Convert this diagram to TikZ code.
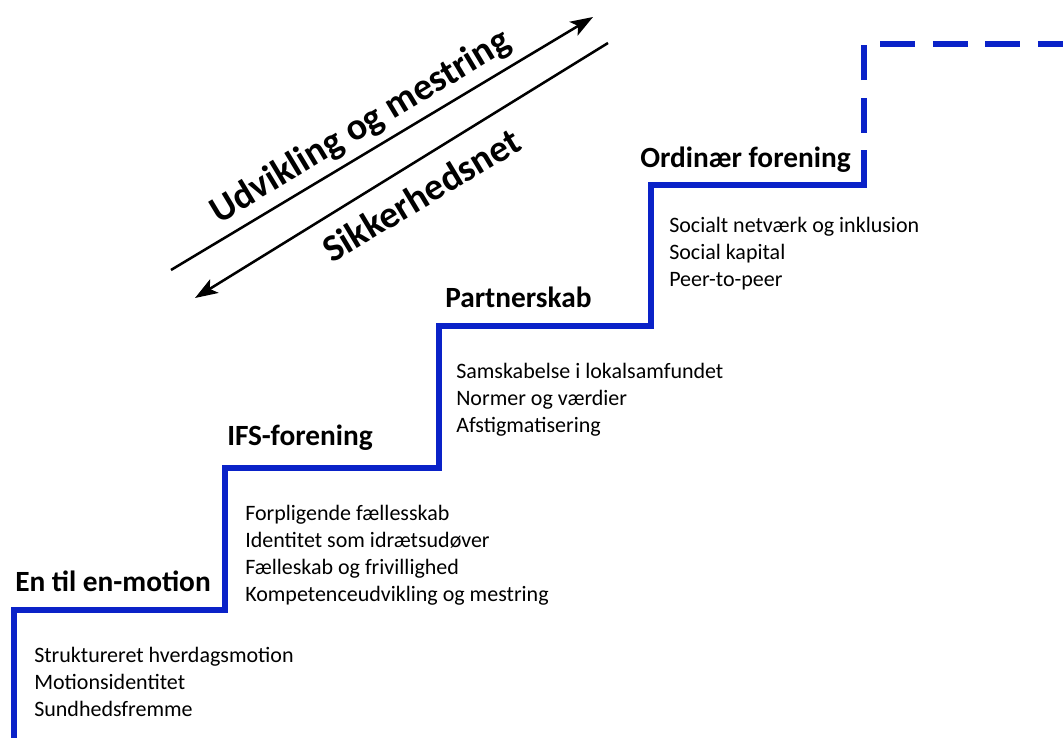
\documentclass[tikz,border=0pt]{standalone}
\usepackage{fontspec}
\setmainfont{Carlito}
\usetikzlibrary{arrows.meta}
\definecolor{stairblue}{RGB}{10,34,200}
\begin{document}
\begin{tikzpicture}[x=0.75pt,y=-0.75pt,
  stair/.style={line width=4.5pt, draw=stairblue, line join=miter},
  heading/.style={font=\fontsize{22}{26}\selectfont\bfseries, anchor=base west, inner sep=0pt},
  item/.style={font=\fontsize{16.5}{20}\selectfont, anchor=base west, inner sep=0pt},
  slogan/.style={font=\fontsize{28.5}{34}\selectfont\bfseries, anchor=base, inner sep=0pt, rotate=31},
  arr/.style={line width=1.9pt, -{Stealth[length=17pt,width=12pt,inset=4pt]}}]
\useasboundingbox (0,0) rectangle (1063,738);

% staircase corners
\coordinate (s0) at (14,740);
\coordinate (s1) at (14,610);
\coordinate (s2) at (225,610);
\coordinate (s3) at (225,468);
\coordinate (s4) at (439,468);
\coordinate (s5) at (439,326);
\coordinate (s6) at (651,326);
\coordinate (s7) at (651,185);
\coordinate (s8) at (864,185);
\coordinate (s9) at (864,150);
\coordinate (s10) at (864,44);
\coordinate (s11) at (1065,44);

\draw[stair] (s0) -- (s1) -- (s2) -- (s3) -- (s4) -- (s5) -- (s6) -- (s7) -- (s8) -- (s9);
\draw[stair, dash pattern=on 26.25pt off 13.1pt, dash phase=26.25pt] (s9) -- (s10) -- (s11);

% arrows
\coordinate (a1s) at (171,270);
\coordinate (a1e) at (593,17);
\coordinate (a2s) at (608,43);
\coordinate (a2e) at (195,298);
\draw[arr] (a1s) -- (a1e);
\draw[arr] (a2s) -- (a2e);

\node[slogan] (up) at (366,136) {Udvikling og mestring};
\node[slogan] (down) at (428,206) {Sikkerhedsnet};

% headings
\node[heading] (h1) at (15,591) {En til en-motion};
\node[heading] (h2) at (227,445) {IFS-forening};
\node[heading] (h3) at (445,307) {Partnerskab};
\node[heading] (h4) at (640,167) {Ordinær forening};

% items
\node[item] (i11) at (34,662) {Struktureret hverdagsmotion};
\node[item] (i12) at (34,689) {Motionsidentitet};
\node[item] (i13) at (34,716) {Sundhedsfremme};

\node[item] (i21) at (245,520) {Forpligende fællesskab};
\node[item] (i22) at (245,547) {Identitet som idrætsudøver};
\node[item] (i23) at (245,574) {Fælleskab og frivillighed};
\node[item] (i24) at (245,601) {Kompetenceudvikling og mestring};

\node[item] (i31) at (456,378) {Samskabelse i lokalsamfundet};
\node[item] (i32) at (456,405) {Normer og værdier};
\node[item] (i33) at (456,432) {Afstigmatisering};

\node[item] (i41) at (669,232) {Socialt netværk og inklusion};
\node[item] (i42) at (669,259) {Social kapital};
\node[item] (i43) at (669,286) {Peer-to-peer};
\end{tikzpicture}
\end{document}
